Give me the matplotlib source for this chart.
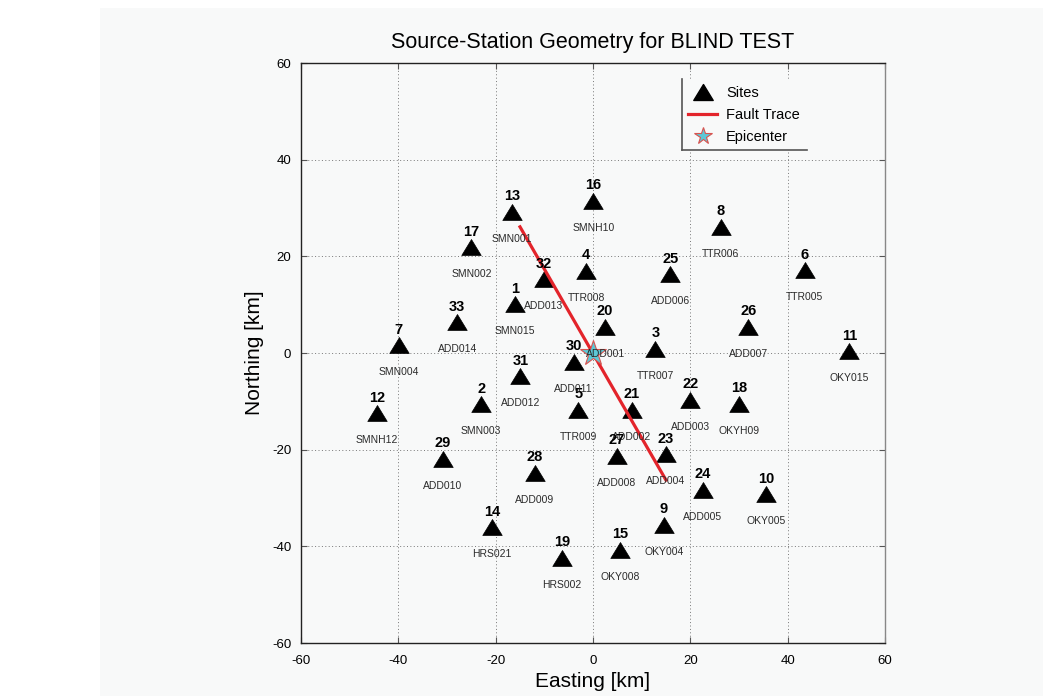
import matplotlib
matplotlib.use("Agg")
import matplotlib.pyplot as plt
from matplotlib.lines import Line2D
from matplotlib.patches import Rectangle
from matplotlib.path import Path

plt.rcParams['font.family'] = ['Liberation Sans', 'DejaVu Sans']
plt.rcParams['axes.unicode_minus'] = False

# Station numbers, names and coordinates (km)
station_ids = [1, 2, 3, 4, 5, 6, 7, 8, 9, 10, 11, 12, 13, 14, 15, 16, 17,
               18, 19, 20, 21, 22, 23, 24, 25, 26, 27, 28, 29, 30, 31, 32, 33]
station_names = ['SMN015', 'SMN003', 'TTR007', 'TTR008', 'TTR009', 'TTR005',
                 'SMN004', 'TTR006', 'OKY004', 'OKY005', 'OKY015', 'SMNH12',
                 'SMN001', 'HRS021', 'OKY008', 'SMNH10', 'SMN002', 'OKYH09',
                 'HRS002', 'ADD001', 'ADD002', 'ADD003', 'ADD004', 'ADD005',
                 'ADD006', 'ADD007', 'ADD008', 'ADD009', 'ADD010', 'ADD011',
                 'ADD012', 'ADD013', 'ADD014']
easting = [-16.0, -23.0, 12.8, -1.4, -3.0, 43.5, -39.9, 26.2, 14.6, 35.5,
           52.7, -44.4, -16.6, -20.8, 5.5, 0.1, -25.0, 30.1, -6.4, 2.5,
           8.0, 20.0, 14.9, 22.5, 15.9, 31.9, 4.9, -12.0, -30.9, -4.0,
           -14.9, -10.1, -27.9]
northing = [10.1, -10.6, 0.9, 17.0, -11.7, 17.1, 1.6, 26.1, -35.5, -29.2,
            0.4, -12.5, 29.2, -36.0, -40.7, 31.5, 21.9, -10.5, -42.4, 5.4,
            -11.7, -9.7, -20.9, -28.3, 16.3, 5.4, -21.3, -24.8, -21.9, -1.8,
            -4.8, 15.3, 6.4]

fault_east = [-15.0, 15.0]
fault_north = [26.1, -26.3]

epi_east = [0.0]
epi_north = [0.0]

axis_ticks = [-60, -40, -20, 0, 20, 40, 60]

bg = '#f8f9f9'
W, H = 1043, 696
fig = plt.figure(figsize=(W / 100, H / 100), dpi=100, facecolor='white')
fig.patches.append(Rectangle((100 / W, 0), 1, (H - 8) / H, transform=fig.transFigure,
                             facecolor=bg, edgecolor='none', zorder=-10))

ax = fig.add_axes([301 / W, 1 - 643 / H, 584 / W, 580 / H])
ax.set_facecolor(bg)

# Slightly squat triangle like the classic site marker
tri = Path([(0, 0.82), (-1, -0.82), (1, -0.82), (0, 0.82)],
           [Path.MOVETO, Path.LINETO, Path.LINETO, Path.CLOSEPOLY])

ax.plot(easting, northing, linestyle='none', marker=tri, markersize=14,
        color='black', markeredgewidth=0.5, zorder=3)
ax.plot(fault_east, fault_north, color='#e3242b', linewidth=2.3, zorder=4)
ax.plot(epi_east, epi_north, linestyle='none', marker='*', markersize=19,
        markerfacecolor='#5cc8d6', markeredgecolor='#d9534f', markeredgewidth=0.8,
        zorder=5)

for sid, name, x, y in zip(station_ids, station_names, easting, northing):
    ax.text(x, y + 3.2, str(sid), ha='center', va='center', fontsize=10.5,
            fontweight='bold', color='black', zorder=6)
    ax.text(x, y - 5.6, name, ha='center', va='center', fontsize=7.5,
            color='#2b2b2b', zorder=6)

ax.set_xlim(-60, 60)
ax.set_ylim(-60, 60)
ax.set_xticks(axis_ticks)
ax.set_yticks(axis_ticks)
ax.tick_params(direction='in', length=4, width=0.8, top=True, right=True,
               labelsize=9.5, color='#555555')
ax.tick_params(axis='x', pad=9)
ax.tick_params(axis='y', pad=7)
ax.grid(True, linestyle=(0, (1, 2.5)), color='#777777', linewidth=0.7)
for side in ['left', 'bottom', 'top']:
    ax.spines[side].set_color('#222222')
    ax.spines[side].set_linewidth(1.0)
ax.spines['right'].set_color('#888888')
ax.spines['right'].set_linewidth(1.0)

ax.set_title('Source-Station Geometry for BLIND TEST', fontsize=15.5, pad=11)
ax.set_xlabel('Easting [km]', fontsize=15, labelpad=3)
ax.set_ylabel('Northing [km]', fontsize=15, labelpad=6)

handles = [
    Line2D([], [], linestyle='none', marker=tri, markersize=14, color='black'),
    Line2D([], [], color='#e3242b', linewidth=2.3),
    Line2D([], [], linestyle='none', marker='*', markersize=13,
           markerfacecolor='#5cc8d6', markeredgecolor='#d9534f', markeredgewidth=0.8),
]
leg = ax.legend(handles, ['Sites', 'Fault Trace', 'Epicenter'],
                loc='upper left', bbox_to_anchor=(0.652, 0.972),
                borderaxespad=0, fontsize=10.5, frameon=True, fancybox=False,
                handlelength=2.0, handletextpad=0.6, labelspacing=0.55,
                borderpad=0.45)
leg.get_frame().set_facecolor(bg)
leg.get_frame().set_edgecolor('none')
leg.get_frame().set_alpha(1)

fig.canvas.draw()
bb = leg.get_window_extent().transformed(fig.transFigure.inverted())
edge_kw = dict(transform=fig.transFigure, color='#555555', linewidth=1.2, zorder=10)
fig.add_artist(Line2D([bb.x0, bb.x0], [bb.y0, bb.y1], **edge_kw))
fig.add_artist(Line2D([bb.x0, bb.x1], [bb.y0, bb.y0], **edge_kw))

fig.savefig('out.png', dpi=100, facecolor=fig.get_facecolor())
